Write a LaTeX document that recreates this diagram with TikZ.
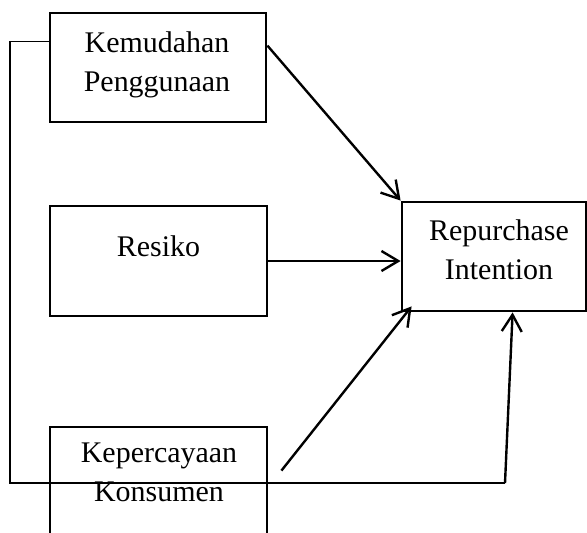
\documentclass[tikz,border=0pt]{standalone}
\usepackage{fontspec}
\setmainfont{Liberation Serif}
\usetikzlibrary{arrows.meta,calc}
\tikzset{
    var/.style={draw, line width=2pt, inner sep=0pt},
    txt/.style={font=\fontsize{21.3}{27.7}\selectfont, align=center, inner sep=0pt, anchor=north},
    link/.style={line width=1.7pt, -{Straight Barb[length=0.42cm, width=0.5cm]}},
    thinlink/.style={line width=0.8pt},
}
\begin{document}
\begin{tikzpicture}
    \clip (0,0) rectangle (14.675,-13.3);

    % Variables on the left
    \node[var, minimum width=5.4cm, minimum height=2.725cm] (KP) at (3.95,-1.6875) {};
    \node[txt] (KPt) at (3.925,-0.775) {Kemudahan\\Penggunaan};

    \node[var, minimum width=5.425cm, minimum height=2.75cm] (RS) at (3.9625,-6.525) {};
    \node[txt] (RSt) at (3.9625,-5.8875) {Resiko};

    \node[var, minimum width=5.425cm, minimum height=3.325cm] (KK) at (3.9625,-12.3375) {};
    \node[txt] (KKt) at (3.975,-11.075) {Kepercayaan\\Konsumen};

    % Dependent variable
    \node[var, minimum width=4.6cm, minimum height=2.725cm] (RI) at (12.35,-6.4125) {};
    \node[txt] (RIt) at (12.475,-5.4875) {Repurchase\\Intention};

    % Arrows
    \draw[link] ([yshift=-0.85cm]KP.north east) -- (RI.north west);
    \draw[link] (RS.east) -- (RS.east -| RI.west);
    \draw[link] ([shift={(0.325,-1.125)}]KK.north east) -- ([shift={(0.275,0.15)}]RI.south west);

    % Loop round the left side
    \coordinate (bendA) at (0.25,-12.075);
    \coordinate (bendB) at (12.625,-12.075);
    \draw[thinlink] ([yshift=-0.75cm]KP.north west) -| (bendA) -- (bendB);
    \draw[link] (bendB) -- ([xshift=2.8cm]RI.south west);
\end{tikzpicture}
\end{document}
